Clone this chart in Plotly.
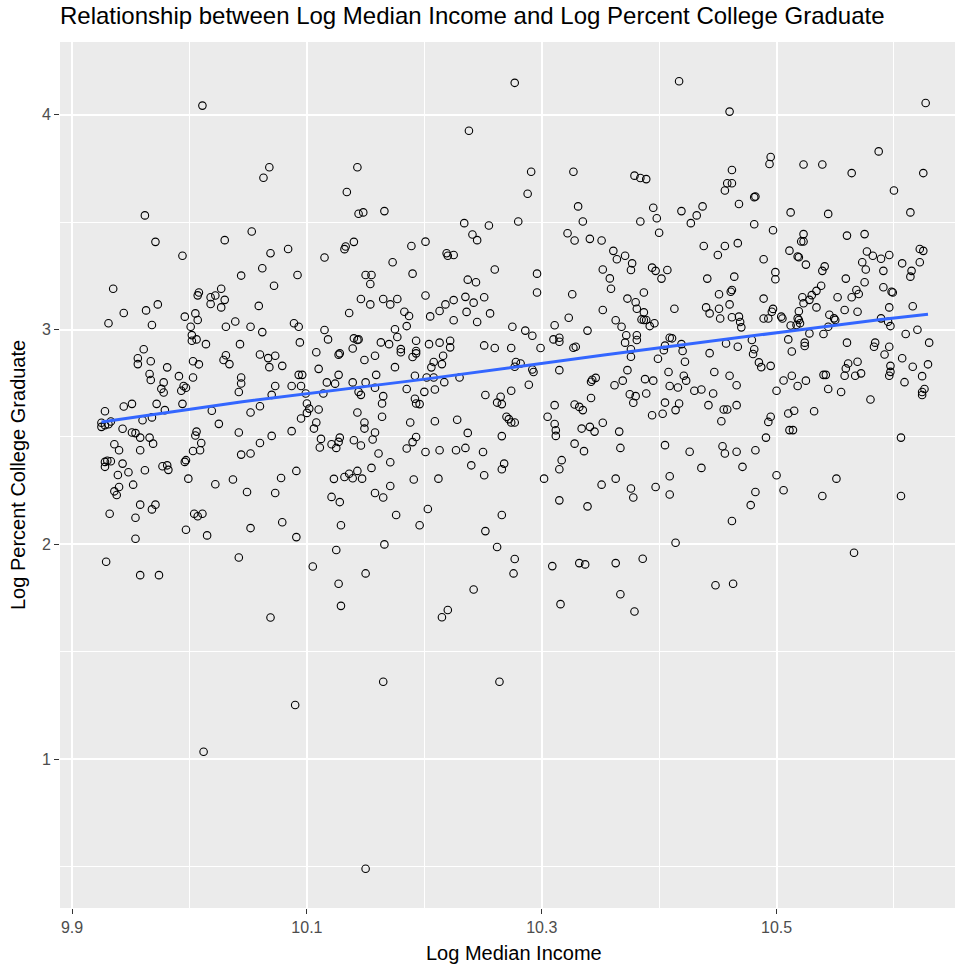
import plotly.graph_objects as go

# ---- data (log median income, log percent college graduate) ----
income_a = [10.011, 9.962, 9.971, 10.030, 9.994, 10.044, 9.935, 10.008, 10.007, 10.018,
            10.022, 10.027, 10.030, 10.018, 10.027, 9.973, 9.944, 9.963, 9.931, 9.968,
            9.996, 10.005, 10.007, 10.001, 10.002, 10.002, 10.006, 10.014, 10.031, 10.039,
            10.043, 9.961, 9.956, 9.956, 9.967, 9.981, 10.003, 10.008, 10.031, 10.029,
            10.034, 9.966, 9.967, 9.991, 10.003, 9.978, 9.976, 9.978, 9.993, 9.995,
            9.997, 10.044, 10.044, 10.042, 9.928, 9.944, 9.951, 9.972, 9.994, 9.979,
            10.019, 9.925, 9.925, 9.928, 9.933, 9.931, 9.960, 9.968, 9.943, 9.951,
            9.954, 9.958, 9.966, 9.969, 10.025, 10.042, 10.006, 10.005, 10.010, 10.009,
            10.003, 9.936, 9.940, 9.958, 10.044, 9.928, 9.930, 9.933, 9.928, 9.943,
            9.939, 9.948, 9.962, 9.977, 9.981, 9.982, 9.996, 9.997, 9.999, 10.037]
college_a = [4.042, 3.531, 3.408, 3.416, 3.343, 3.251, 3.190, 3.172, 3.159, 3.150,
             3.158, 3.190, 3.138, 3.119, 3.103, 3.117, 3.077, 3.089, 3.029, 3.021,
             3.060, 3.075, 3.044, 3.013, 2.974, 2.948, 2.954, 2.932, 3.013, 3.037,
             2.932, 2.908, 2.866, 2.839, 2.852, 2.824, 2.852, 2.838, 2.880, 2.858,
             2.839, 2.793, 2.765, 2.783, 2.777, 2.754, 2.724, 2.707, 2.715, 2.737,
             2.729, 2.777, 2.749, 2.709, 2.620, 2.642, 2.654, 2.654, 2.654, 2.625,
             2.622, 2.566, 2.547, 2.555, 2.572, 2.559, 2.578, 2.591, 2.538, 2.521,
             2.518, 2.497, 2.497, 2.469, 2.561, 2.521, 2.525, 2.507, 2.472, 2.438,
             2.435, 2.466, 2.438, 2.438, 2.418, 2.384, 2.389, 2.387, 2.361, 2.376,
             2.323, 2.336, 2.345, 2.364, 2.368, 2.347, 2.384, 2.392, 2.306, 2.302]

income_b = [9.940, 9.936, 9.938, 9.952, 9.958, 9.971, 9.968, 9.932, 9.954, 9.954,
            10.004, 10.007, 10.011, 9.997, 10.015, 10.022, 9.929, 9.958, 9.974, 10.042,
            10.012]
college_b = [2.267, 2.247, 2.230, 2.278, 2.185, 2.185, 2.163, 2.143, 2.124, 2.026,
             2.143, 2.131, 2.143, 2.068, 2.042, 2.280, 1.919, 1.857, 1.857, 1.939,
             1.035]

income_c = [10.068, 10.063, 10.143, 10.134, 10.144, 10.148, 10.166, 10.053, 10.069, 10.084,
            10.062, 10.092, 10.072, 10.115, 10.132, 10.133, 10.140, 10.189, 10.173, 10.190,
            10.150, 10.155, 10.154, 10.059, 10.146, 10.154, 10.165, 10.171, 10.177, 10.136,
            10.183, 10.187, 10.052, 10.062, 10.089, 10.093, 10.094, 10.115, 10.118, 10.175,
            10.177, 10.185, 10.140, 10.143, 10.144, 10.139, 10.163, 10.170, 10.180, 10.180,
            10.193, 10.193, 10.190, 10.193, 10.060, 10.067, 10.073, 10.068, 10.079, 10.108,
            10.128, 10.127, 10.149, 10.158, 10.110, 10.175, 10.093, 10.096, 10.127, 10.159,
            10.192, 10.117, 10.124, 10.139, 10.150, 10.073, 10.087, 10.095, 10.158, 10.185,
            10.070, 10.099, 10.114, 10.144, 10.146, 10.165, 10.164, 10.192, 10.193, 10.196,
            10.060, 10.052, 10.100, 10.102, 10.100, 10.110, 10.095, 10.143, 10.164, 10.108,
            10.106, 10.087, 10.149, 10.149, 10.158, 10.188, 10.070, 10.060, 10.052, 10.112,
            10.111, 10.121, 10.128, 10.127, 10.125, 10.140, 10.146, 10.156, 10.193, 10.190,
            10.185, 10.161, 10.171, 10.155, 10.091, 10.078, 10.123, 10.132, 10.136, 10.143,
            10.139, 10.147, 10.191]
college_c = [3.755, 3.706, 3.755, 3.640, 3.539, 3.545, 3.551, 3.456, 3.355, 3.375,
             3.285, 3.254, 3.204, 3.335, 3.374, 3.386, 3.408, 3.389, 3.313, 3.260,
             3.254, 3.254, 3.212, 3.110, 3.142, 3.117, 3.142, 3.117, 3.142, 3.077,
             3.083, 3.063, 3.013, 2.988, 3.029, 3.013, 2.940, 2.998, 2.954, 3.001,
             2.965, 3.016, 2.959, 2.951, 2.954, 2.912, 2.940, 2.932, 2.909, 2.894,
             2.948, 2.900, 2.872, 2.889, 2.884, 2.867, 2.878, 2.825, 2.831, 2.894,
             2.889, 2.883, 2.858, 2.878, 2.817, 2.825, 2.789, 2.789, 2.789, 2.789,
             2.785, 2.754, 2.748, 2.754, 2.754, 2.737, 2.737, 2.737, 2.729, 2.723,
             2.696, 2.702, 2.702, 2.710, 2.696, 2.690, 2.656, 2.678, 2.656, 2.653,
             2.643, 2.614, 2.656, 2.632, 2.612, 2.628, 2.586, 2.614, 2.594, 2.567,
             2.539, 2.527, 2.567, 2.539, 2.521, 2.567, 2.505, 2.472, 2.423, 2.491,
             2.451, 2.466, 2.497, 2.477, 2.449, 2.485, 2.460, 2.488, 2.500, 2.476,
             2.446, 2.423, 2.382, 2.356, 2.342, 2.309, 2.305, 2.314, 2.329, 2.342,
             2.308, 2.306, 2.302]

income_d = [10.049, 10.073, 10.171, 10.121, 10.128, 10.158, 10.165, 10.176, 10.052, 10.079,
            10.091, 10.129, 10.196, 10.166, 10.125, 10.105, 10.150, 10.127, 10.129, 10.069,
            10.165, 10.090, 10.150]
college_d = [2.244, 2.239, 2.272, 2.221, 2.197, 2.239, 2.218, 2.137, 2.076, 2.103,
             2.034, 2.089, 2.089, 2.000, 1.974, 1.897, 1.865, 1.817, 1.714, 1.660,
             1.361, 1.253, 0.491]

income_e = [10.277, 10.238, 10.291, 10.327, 10.288, 10.331, 10.335, 10.234, 10.255, 10.280,
            10.241, 10.245, 10.322, 10.328, 10.341, 10.351, 10.201, 10.219, 10.220, 10.225,
            10.260, 10.296, 10.352, 10.296, 10.326, 10.237, 10.244, 10.201, 10.235, 10.251,
            10.225, 10.242, 10.218, 10.213, 10.205, 10.236, 10.256, 10.225, 10.245, 10.352,
            10.323, 10.275, 10.311, 10.286, 10.292, 10.339, 10.204, 10.213, 10.222, 10.222,
            10.251, 10.260, 10.274, 10.299, 10.310, 10.315, 10.315, 10.327, 10.329, 10.216,
            10.208, 10.215, 10.206, 10.278, 10.282, 10.277, 10.292, 10.293, 10.315, 10.202,
            10.208, 10.230, 10.217, 10.209, 10.200, 10.289, 10.342, 10.346, 10.343, 10.274,
            10.252, 10.265, 10.262, 10.266, 10.311, 10.328, 10.332, 10.335, 10.342, 10.209,
            10.228, 10.270, 10.272, 10.274, 10.277, 10.305, 10.311, 10.312, 10.312, 10.334,
            10.341, 10.345, 10.352, 10.237, 10.266, 10.201, 10.213, 10.227, 10.235, 10.250,
            10.328, 10.336, 10.240, 10.251, 10.268, 10.266, 10.317, 10.315, 10.212, 10.302]
college_e = [4.148, 3.925, 3.734, 3.734, 3.632, 3.573, 3.503, 3.495, 3.484, 3.503,
             3.442, 3.416, 3.448, 3.414, 3.422, 3.414, 3.409, 3.355, 3.343, 3.347,
             3.279, 3.260, 3.279, 3.172, 3.164, 3.232, 3.220, 3.158, 3.152, 3.150,
             3.137, 3.125, 3.117, 3.086, 3.061, 3.082, 3.075, 3.043, 3.035, 3.091,
             3.055, 3.013, 3.020, 2.995, 2.971, 2.995, 2.932, 2.939, 2.948, 2.917,
             2.926, 2.914, 2.914, 2.914, 2.954, 2.962, 2.943, 2.915, 2.920, 2.878,
             2.849, 2.839, 2.824, 2.849, 2.842, 2.827, 2.814, 2.802, 2.811, 2.777,
             2.777, 2.777, 2.755, 2.721, 2.710, 2.743, 2.757, 2.775, 2.766, 2.715,
             2.695, 2.687, 2.660, 2.653, 2.648, 2.651, 2.640, 2.625, 2.681, 2.573,
             2.580, 2.594, 2.583, 2.567, 2.567, 2.594, 2.560, 2.531, 2.505, 2.539,
             2.547, 2.525, 2.566, 2.519, 2.504, 2.430, 2.438, 2.438, 2.449, 2.430,
             2.469, 2.434, 2.368, 2.322, 2.376, 2.350, 2.392, 2.350, 2.306, 2.306]

income_f = [10.351, 10.203, 10.315, 10.339, 10.266, 10.252, 10.262, 10.277, 10.276, 10.309,
            10.332, 10.337, 10.316, 10.242, 10.220, 10.215, 10.264]
college_f = [2.278, 2.165, 2.205, 2.177, 2.137, 2.062, 1.988, 1.932, 1.865, 1.899,
             1.913, 1.907, 1.722, 1.790, 1.695, 1.661, 1.361]

income_g = [10.417, 10.460, 10.495, 10.494, 10.462, 10.379, 10.384, 10.389, 10.458, 10.462,
            10.456, 10.481, 10.482, 10.468, 10.395, 10.398, 10.384, 10.419, 10.432, 10.437,
            10.427, 10.400, 10.481, 10.497, 10.438, 10.450, 10.456, 10.467, 10.361, 10.364,
            10.371, 10.377, 10.376, 10.489, 10.394, 10.397, 10.407, 10.402, 10.358, 10.359,
            10.441, 10.464, 10.499, 10.499, 10.387, 10.373, 10.380, 10.381, 10.387, 10.451,
            10.461, 10.462, 10.460, 10.489, 10.413, 10.440, 10.443, 10.451, 10.452, 10.497,
            10.496, 10.462, 10.468, 10.469, 10.470, 10.489, 10.493, 10.505, 10.504, 10.363,
            10.368, 10.385, 10.387, 10.389, 10.396, 10.392, 10.372, 10.371, 10.381, 10.381,
            10.409, 10.411, 10.419, 10.420, 10.405, 10.404, 10.376, 10.376, 10.399, 10.422,
            10.443, 10.457, 10.467, 10.479, 10.481, 10.480, 10.485, 10.487, 10.495, 10.373,
            10.362, 10.369, 10.388, 10.395, 10.408, 10.421, 10.423, 10.447, 10.460, 10.466,
            10.506, 10.375, 10.380, 10.378, 10.389, 10.409, 10.416, 10.430, 10.436, 10.446,
            10.500, 10.405, 10.417, 10.414, 10.394, 10.403, 10.442, 10.455, 10.458, 10.466,
            10.453, 10.495, 10.493, 10.366, 10.491, 10.367, 10.405, 10.426, 10.454, 10.456,
            10.466, 10.482, 10.471, 10.436, 10.409, 10.363, 10.500]
college_g = [4.155, 4.014, 3.803, 3.770, 3.742, 3.716, 3.705, 3.700, 3.681, 3.681,
             3.647, 3.616, 3.619, 3.584, 3.567, 3.518, 3.503, 3.551, 3.531, 3.573,
             3.495, 3.450, 3.490, 3.462, 3.389, 3.347, 3.389, 3.402, 3.366, 3.327,
             3.343, 3.308, 3.277, 3.327, 3.288, 3.273, 3.277, 3.237, 3.238, 3.190,
             3.237, 3.246, 3.267, 3.234, 3.172, 3.144, 3.127, 3.097, 3.080, 3.164,
             3.176, 3.184, 3.117, 3.144, 3.097, 3.103, 3.075, 3.097, 3.051, 3.096,
             3.083, 3.057, 3.060, 3.035, 3.010, 3.051, 3.051, 3.051, 3.060, 3.043,
             3.013, 3.047, 3.044, 3.044, 3.029, 3.016, 2.973, 2.939, 2.973, 2.951,
             2.962, 2.959, 2.932, 2.900, 2.925, 2.904, 2.908, 2.873, 2.864, 2.850,
             2.890, 2.935, 2.920, 2.951, 2.908, 2.886, 2.847, 2.825, 2.831, 2.811,
             2.741, 2.762, 2.769, 2.762, 2.802, 2.785, 2.762, 2.802, 2.785, 2.741,
             2.763, 2.699, 2.690, 2.659, 2.702, 2.737, 2.730, 2.715, 2.721, 2.702,
             2.715, 2.660, 2.656, 2.625, 2.601, 2.608, 2.648, 2.628, 2.628, 2.648,
             2.573, 2.594, 2.570, 2.525, 2.497, 2.449, 2.462, 2.431, 2.457, 2.423,
             2.431, 2.438, 2.361, 2.356, 2.317, 2.306, 2.322]

income_h = [10.376, 10.378, 10.397, 10.409, 10.482, 10.478, 10.462, 10.506, 10.414, 10.363,
            10.386, 10.367, 10.379, 10.448, 10.463]
college_h = [2.260, 2.218, 2.267, 2.232, 2.244, 2.183, 2.109, 2.252, 2.008, 1.913,
             1.933, 1.768, 1.688, 1.810, 1.817]

income_i = [10.627, 10.587, 10.523, 10.539, 10.564, 10.625, 10.600, 10.512, 10.544, 10.614,
            10.523, 10.521, 10.523, 10.560, 10.575, 10.511, 10.518, 10.519, 10.525, 10.541,
            10.539, 10.577, 10.582, 10.589, 10.596, 10.573, 10.576, 10.591, 10.622, 10.625,
            10.607, 10.615, 10.614, 10.622, 10.559, 10.575, 10.538, 10.534, 10.530, 10.528,
            10.522, 10.523, 10.552, 10.564, 10.568, 10.570, 10.591, 10.598, 10.599, 10.534,
            10.558, 10.569, 10.596, 10.616, 10.519, 10.518, 10.519, 10.520, 10.517, 10.512,
            10.545, 10.549, 10.550, 10.544, 10.589, 10.595, 10.597, 10.528, 10.540, 10.620,
            10.610, 10.510, 10.524, 10.524, 10.513, 10.560, 10.584, 10.583, 10.592, 10.596,
            10.630, 10.607, 10.561, 10.559, 10.569, 10.597, 10.597, 10.596, 10.616, 10.629,
            10.558, 10.567, 10.572, 10.540, 10.542, 10.513, 10.518, 10.525, 10.544, 10.555,
            10.609, 10.624, 10.626, 10.624, 10.624, 10.580, 10.510, 10.515, 10.532, 10.511,
            10.514, 10.606, 10.551, 10.539, 10.606, 10.566]
college_i = [4.054, 3.829, 3.768, 3.768, 3.728, 3.728, 3.647, 3.545, 3.538, 3.545,
             3.444, 3.410, 3.410, 3.437, 3.444, 3.367, 3.340, 3.336, 3.302, 3.294,
             3.273, 3.363, 3.343, 3.329, 3.347, 3.313, 3.279, 3.273, 3.375, 3.366,
             3.308, 3.273, 3.246, 3.313, 3.237, 3.220, 3.204, 3.180, 3.160, 3.138,
             3.150, 3.122, 3.150, 3.150, 3.184, 3.165, 3.197, 3.176, 3.172, 3.103,
             3.091, 3.083, 3.103, 3.108, 3.085, 3.052, 3.044, 3.029, 3.021, 3.019,
             3.069, 3.052, 3.044, 3.013, 3.052, 3.036, 3.016, 2.982, 2.979, 2.999,
             2.979, 2.954, 2.939, 2.923, 2.898, 2.939, 2.939, 2.920, 2.884, 2.920,
             2.939, 2.866, 2.842, 2.819, 2.850, 2.831, 2.803, 2.785, 2.827, 2.838,
             2.785, 2.785, 2.796, 2.789, 2.789, 2.785, 2.737, 2.762, 2.723, 2.709,
             2.755, 2.783, 2.723, 2.709, 2.695, 2.674, 2.609, 2.622, 2.620, 2.532,
             2.532, 2.497, 2.306, 2.225, 2.225, 1.961]

# smooth (loess) line
smooth_income = [9.925, 10.045, 10.199, 10.353, 10.507, 10.589, 10.629]
smooth_college = [2.570, 2.664, 2.768, 2.881, 2.990, 3.047, 3.071]

x_tick_values = [9.9, 10.1, 10.3, 10.5]
x_tick_labels = ["9.9", "10.1", "10.3", "10.5"]
x_minor_values = [10.0, 10.2, 10.4, 10.6]
y_tick_values = [1, 2, 3, 4]
y_tick_labels = ["1", "2", "3", "4"]
y_minor_values = [0.5, 1.5, 2.5, 3.5]

income = income_a + income_b + income_c + income_d + income_e + income_f + income_g + income_h + income_i
college = college_a + college_b + college_c + college_d + college_e + college_f + college_g + college_h + college_i

FONT = "Liberation Sans, Arial, sans-serif"

fig = go.Figure()
fig.add_trace(go.Scatter(
    x=income, y=college, mode="markers",
    marker=dict(symbol="circle-open", size=7.5, color="black", line=dict(width=1.1, color="black")),
    hoverinfo="x+y", showlegend=False,
))
fig.add_trace(go.Scatter(
    x=smooth_income, y=smooth_college, mode="lines",
    line=dict(color="#3366FF", width=3), showlegend=False,
))

W, H = 955, 967
ML, MR, MT, MB = 60, 0, 42, 59

fig.update_layout(
    width=W, height=H,
    margin=dict(l=ML, r=MR, t=MT, b=MB),
    paper_bgcolor="white", plot_bgcolor="#EBEBEB",
    font=dict(family=FONT, color="black"),
    title=dict(
        text="Relationship between Log Median Income and Log Percent College Graduate",
        font=dict(size=24, color="black", family=FONT),
        x=0, xref="paper", xanchor="left",
        y=1 - 16 / H, yref="container", yanchor="middle",
    ),
    xaxis=dict(
        range=[9.8897, 10.652], tickvals=x_tick_values, ticktext=x_tick_labels,
        showgrid=True, gridcolor="white", gridwidth=1.6, zeroline=False, showline=False,
        ticks="outside", ticklen=5, tickwidth=1.4, tickcolor="#333333",
        tickfont=dict(size=16, color="#4D4D4D", family=FONT),
        minor=dict(tickvals=x_minor_values, showgrid=True, gridcolor="white", gridwidth=0.8, ticks=""),
    ),
    yaxis=dict(
        range=[0.308, 4.338], tickvals=y_tick_values, ticktext=y_tick_labels,
        showgrid=True, gridcolor="white", gridwidth=1.6, zeroline=False, showline=False,
        ticks="outside", ticklen=5, tickwidth=1.4, tickcolor="#333333",
        tickfont=dict(size=16, color="#4D4D4D", family=FONT),
        minor=dict(tickvals=y_minor_values, showgrid=True, gridcolor="white", gridwidth=0.8, ticks=""),
    ),
    annotations=[
        dict(text="Log Median Income", xref="paper", yref="paper",
             x=(514 - ML) / (W - ML - MR), y=0, yshift=-(953 - (H - MB)),
             xanchor="center", yanchor="middle", showarrow=False,
             font=dict(size=20, color="black", family=FONT)),
        dict(text="Log Percent College Graduate", xref="paper", yref="paper",
             x=0, xshift=-(ML - 18), y=0.5, textangle=-90,
             xanchor="center", yanchor="middle", showarrow=False,
             font=dict(size=20, color="black", family=FONT)),
    ],
)

fig.write_html("out.html")
